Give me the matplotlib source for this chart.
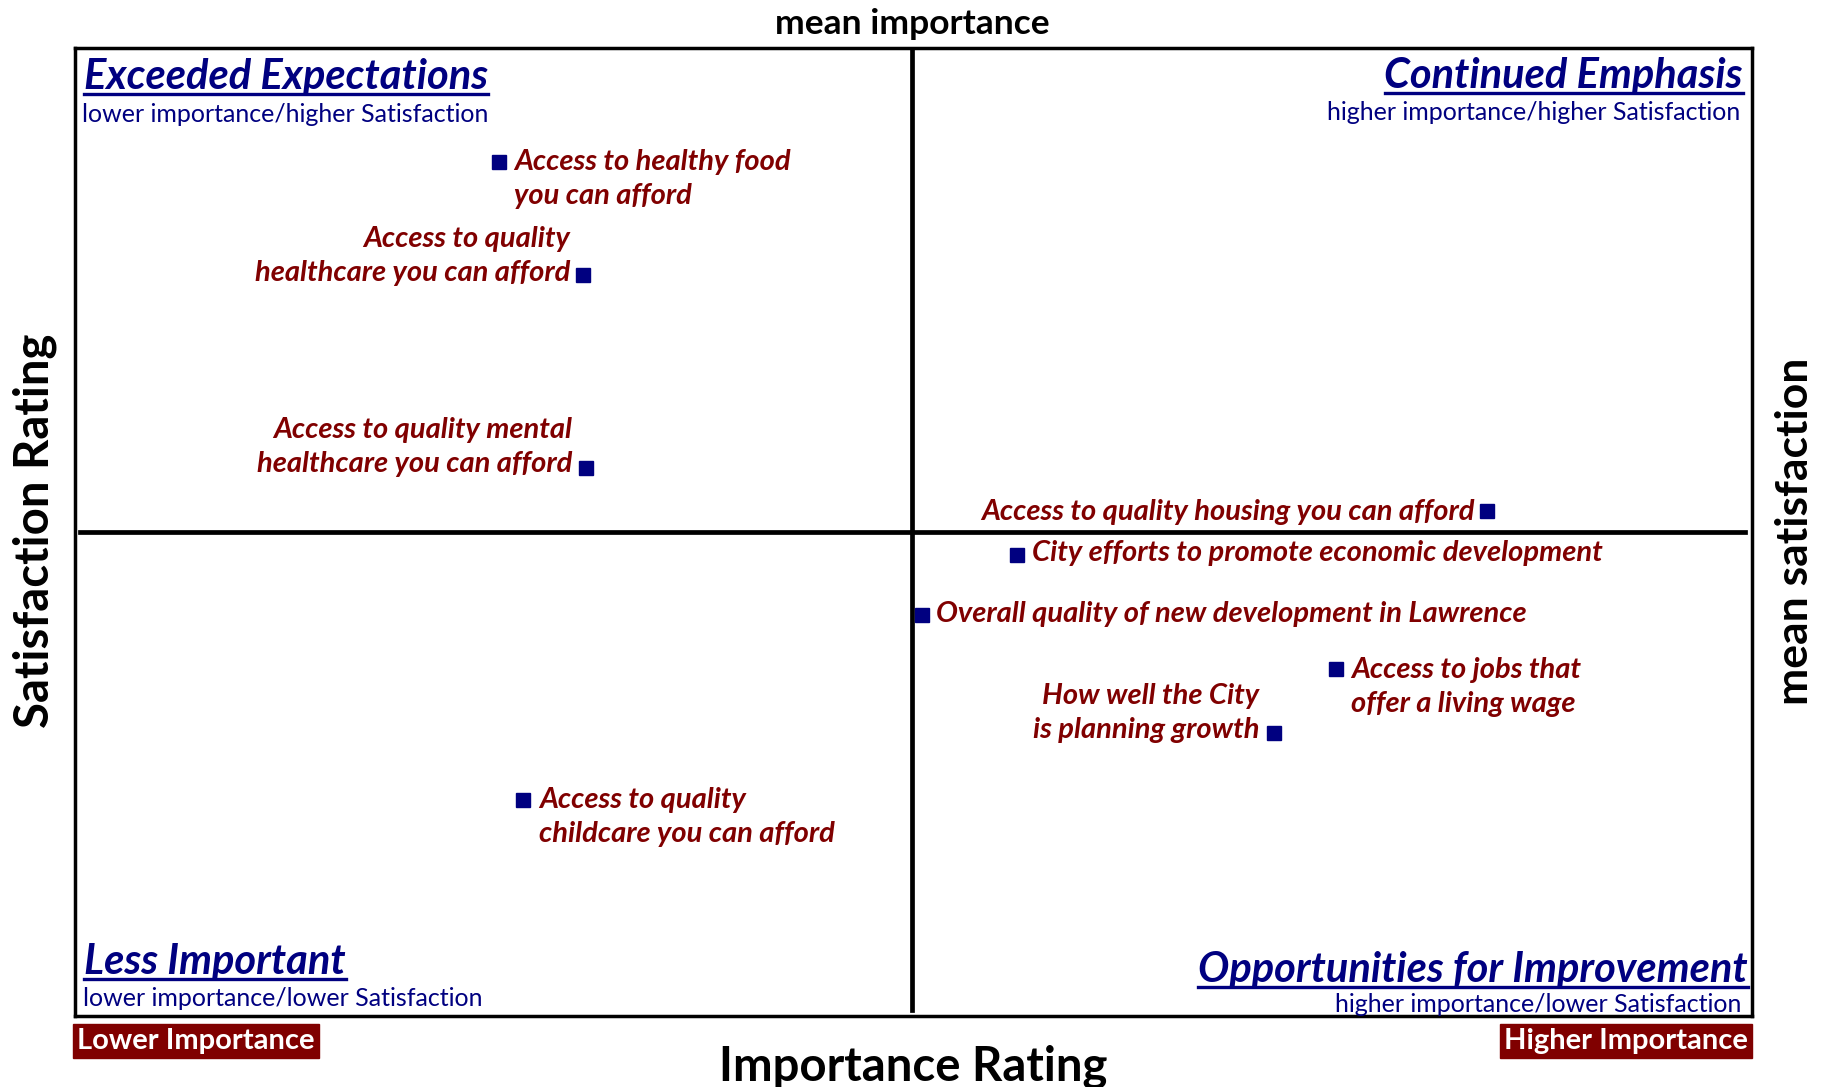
import matplotlib
matplotlib.use('Agg')
import matplotlib.pyplot as plt
from matplotlib.lines import Line2D

plt.rcParams['font.family'] = ['Lato', 'DejaVu Sans']

# Data: mean importance (x) and mean satisfaction (y), rescaled to 0-100
items = [
    'Access to healthy food\nyou can afford',
    'Access to quality\nhealthcare you can afford',
    'Access to quality mental\nhealthcare you can afford',
    'Access to quality housing you can afford',
    'City efforts to promote economic development',
    'Overall quality of new development in Lawrence',
    'Access to jobs that\noffer a living wage',
    'How well the City\nis planning growth',
    'Access to quality\nchildcare you can afford',
]
importance = [25.3, 30.3, 30.5, 84.2, 56.2, 50.5, 75.2, 71.5, 26.7]
satisfaction = [88.2, 76.5, 56.6, 52.2, 47.6, 41.4, 35.8, 29.2, 22.3]
mean_importance = 49.9
mean_satisfaction = 50.0

# label placement: (dx, dy) in pixels, horizontal alignment
label_place = [
    (15, -17, 'left'),
    (-13, 19, 'right'),
    (-14, 21, 'right'),
    (-12, -1, 'right'),
    (15, 2, 'left'),
    (14, 1, 'left'),
    (15, -18, 'left'),
    (-15, 20, 'right'),
    (16, -17, 'left'),
]

W, H = 1830, 1087
navy = '#000080'
maroon = '#800000'

fig = plt.figure(figsize=(W / 100, H / 100), dpi=100)
ax = fig.add_axes([75 / W, 1 - 1016 / H, (1752 - 75) / W, (1016 - 48) / H])
ax.set_xlim(0, 100)
ax.set_ylim(0, 100)
ax.set_xticks([])
ax.set_yticks([])
for s in ax.spines.values():
    s.set_linewidth(2.5)
    s.set_color('black')

# quadrant dividers
ax.plot([0.3, 99.6], [mean_satisfaction, mean_satisfaction], color='black', lw=3.4, zorder=1)
ax.plot([mean_importance, mean_importance], [0.6, 100], color='black', lw=3.4, zorder=1)

ax.plot(importance, satisfaction, 's', color=navy, ms=9.5, zorder=3)
for x, y, txt, (dx, dy, ha) in zip(importance, satisfaction, items, label_place):
    ax.annotate(txt, (x, y), xytext=(dx, dy), textcoords='offset pixels',
                ha=ha, va='center', multialignment=ha, fontsize=21,
                fontweight='bold', fontstyle='italic', color=maroon,
                linespacing=1.38, zorder=4)


def fx(px):
    return px / W


def fy(py):
    return 1 - py / H


# quadrant titles (underlined)
titles = [
    ('Exceeded Expectations', 84, 89, 'left'),
    ('Continued Emphasis', 1743, 88, 'right'),
    ('Less Important', 84, 974, 'left'),
    ('Opportunities for Improvement', 1748, 982, 'right'),
]
subtitles = [
    ('lower importance/higher Satisfaction', 82, 114, 'left'),
    ('higher importance/higher Satisfaction', 1740, 112, 'right'),
    ('lower importance/lower Satisfaction', 83, 999, 'left'),
    ('higher importance/lower Satisfaction', 1741, 1004, 'right'),
]
title_objs = []
for txt, x, y, ha in titles:
    t = fig.text(fx(x), fy(y), txt, ha=ha, va='baseline', fontsize=30,
                 fontweight='bold', fontstyle='italic', color=navy)
    title_objs.append((t, y))
for txt, x, y, ha in subtitles:
    fig.text(fx(x), fy(y), txt, ha=ha, va='center', fontsize=18, color=navy)

renderer = fig.canvas.get_renderer()
for t, y in title_objs:
    bb = t.get_window_extent(renderer)
    fig.add_artist(Line2D([fx(bb.x0), fx(bb.x1)], [fy(y + 5), fy(y + 5)],
                          color=navy, lw=2.4, transform=fig.transFigure))

# axis labels
fig.text(fx(913), fy(1067), 'Importance Rating', ha='center', va='center',
         fontsize=34, fontweight='bold')
fig.text(fx(35), fy(531), 'Satisfaction Rating', ha='center', va='center',
         rotation=90, fontsize=34, fontweight='bold')
fig.text(fx(912), fy(24), 'mean importance', ha='center', va='center',
         fontsize=25.5, fontweight='bold')
fig.text(fx(1795), fy(531), 'mean satisfaction', ha='center', va='center',
         rotation=90, fontsize=32, fontweight='bold')

# importance end tags
box = dict(boxstyle='square,pad=0.15', fc=maroon, ec=maroon)
fig.text(fx(77), fy(1041), 'Lower Importance', ha='left', va='center',
         fontsize=21, fontweight='bold', color='white', bbox=box)
fig.text(fx(1748), fy(1041), 'Higher Importance', ha='right', va='center',
         fontsize=21, fontweight='bold', color='white', bbox=box)

fig.savefig('out.png', dpi=100)
